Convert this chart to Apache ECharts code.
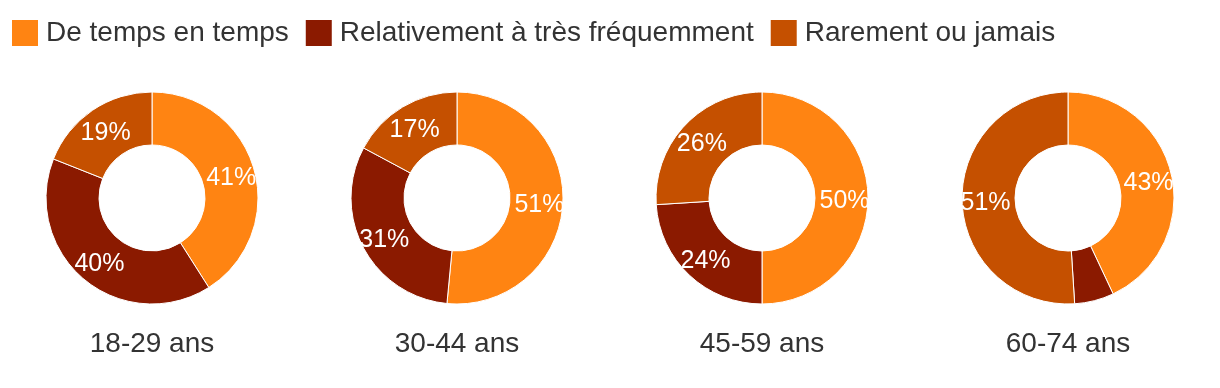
<!DOCTYPE html>
<html><head><meta charset="utf-8">
<script src="https://cdn.jsdelivr.net/npm/echarts@6/dist/echarts.min.js"></script>
<style>html,body{margin:0;padding:0;background:#fff}#c{width:1220px;height:388px}</style>
</head><body><div id="c"></div>
<script>
const categories = ['De temps en temps', 'Relativement à très fréquemment', 'Rarement ou jamais'];
const groups = ['18-29 ans', '30-44 ans', '45-59 ans', '60-74 ans'];
const v18_29 = [41, 40, 19];
const v30_44 = [51, 31, 17];
const v45_59 = [50, 24, 26];
const v60_74 = [43, 6, 51];
const values = [v18_29, v30_44, v45_59, v60_74];
const colors = ['#ff8412', '#8b1a00', '#c55000'];

const centersX = [152, 457, 762, 1068];
const font = 'Arial, "Liberation Sans", sans-serif';
const chart = echarts.init(document.getElementById('c'));
chart.setOption({
  color: colors,
  animation: false,
  legend: {
    left: 10, top: 18, padding: 0, itemWidth: 28, itemHeight: 28, itemGap: 15,
    icon: 'rect',
    textStyle: {fontSize: 28, color: '#333', fontFamily: font, padding: [0, 0, 0, 2]},
    data: categories
  },
  title: groups.map((g, i) => ({
    text: g, left: centersX[i], top: 330, textAlign: 'center', padding: 0,
    textStyle: {fontSize: 28, color: '#333', fontWeight: 'normal', fontFamily: font}
  })),
  series: values.map((vals, i) => ({
    type: 'pie',
    center: [centersX[i], 198],
    radius: [53, 106],
    startAngle: 90,
    clockwise: true,
    avoidLabelOverlap: false,
    itemStyle: {borderColor: '#fff', borderWidth: 1},
    label: {
      show: true, position: 'inside', color: '#fff', fontSize: 25, fontFamily: font,
      offset: [0, 3],
      formatter: p => p.value < 10 ? '' : p.value + '%'
    },
    labelLine: {show: false},
    data: vals.map((v, j) => ({name: categories[j], value: v}))
  }))
});
</script></body></html>
